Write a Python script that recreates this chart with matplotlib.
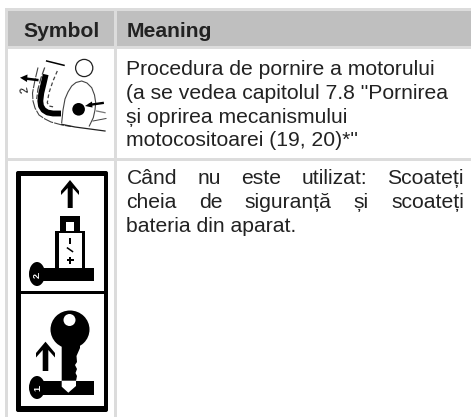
import matplotlib
matplotlib.use('Agg')
import matplotlib.pyplot as plt
from matplotlib.patches import Rectangle, Circle, Ellipse, Polygon, FancyBboxPatch

plt.rcParams['font.family'] = ['Liberation Sans', 'DejaVu Sans']

# table contents
headers = ['Symbol', 'Meaning']
row1_lines = ['Procedura de pornire a motorului',
              '(a se vedea capitolul 7.8 "Pornirea',
              'și oprirea mecanismului',
              'motocositoarei (19, 20)*"']
row2_lines = ['Când nu este utilizat: Scoateți',
              'cheia de siguranță și scoateți',
              'bateria din aparat.']
row2_justified = [True, True, False]

GRID = '#dcdcdc'
HEAD = '#bfbfbf'
TEXT = '#222222'
FS = 15.2

fig = plt.figure(figsize=(4.71, 4.17), dpi=100)
ax = fig.add_axes([0, 0, 1, 1])
ax.set_xlim(0, 471)
ax.set_ylim(417, 0)
ax.axis('off')

# grid and header
ax.add_patch(Rectangle((5, 8), 466, 409, fc=GRID, ec='none'))
ax.add_patch(Rectangle((8, 11), 106, 35, fc=HEAD, ec='none'))
ax.add_patch(Rectangle((116.5, 11), 355, 35, fc=HEAD, ec='none'))
ax.add_patch(Rectangle((8, 49), 106, 109, fc='white', ec='none'))
ax.add_patch(Rectangle((116.5, 49), 355, 109, fc='white', ec='none'))
ax.add_patch(Rectangle((8, 161), 106, 256, fc='white', ec='none'))
ax.add_patch(Rectangle((116.5, 161), 355, 256, fc='white', ec='none'))

ax.text(62, 36.5, headers[0], ha='center', va='baseline', fontsize=15.2,
        fontweight='bold', color=TEXT)
ax.text(126.5, 36.5, headers[1], ha='left', va='baseline', fontsize=15.2,
        fontweight='bold', color=TEXT)

for y, s in zip([75, 99, 122.5, 146.5], row1_lines):
    ax.text(126.5, y, s, ha='left', va='baseline', fontsize=FS, color=TEXT)

# justified lines, word by word
fig.canvas.draw()
rend = fig.canvas.get_renderer()
def put_line(s, y, justify):
    words = s.split(' ')
    if not justify:
        ax.text(126.5, y, s, ha='left', va='baseline', fontsize=FS, color=TEXT)
        return
    widths = []
    for w in words:
        t = ax.text(0, 0, w, fontsize=FS)
        widths.append(t.get_window_extent(rend).width)
        t.remove()
    gap = (464 - 126.5 - sum(widths)) / (len(words) - 1)
    x = 126.5
    for w, wd in zip(words, widths):
        ax.text(x, y, w, ha='left', va='baseline', fontsize=FS, color=TEXT)
        x += wd + gap

for y, s, j in zip([183.5, 207.5, 232], row2_lines, row2_justified):
    put_line(s, y, j)

K = 'black'
G = '#444444'
# symbol 1: start procedure
ax.plot([45.7, 43.5, 41.3, 40.3, 41, 43.5, 47.5, 53, 61], [74.5, 84, 93, 101, 106, 110, 112.5, 113.5, 113.5],
        color=K, lw=4.2, solid_capstyle='butt', solid_joinstyle='round')
ax.plot([38, 35, 32.5, 33, 35, 39, 45, 51, 62, 71], [67.5, 80, 93, 101, 108, 115, 119, 122, 125, 126.5], color=G, lw=0.8, ls=(0, (9, 1)))
ax.plot([44.7, 41, 38, 36.7], [67.5, 78, 89, 99], color=G, lw=0.9, ls=(0, (6, 1.5)))
ax.plot([57.3, 53, 49, 47.3, 49, 54], [71, 81, 92.7, 102.7, 106, 107], color=G, lw=0.9, ls=(0, (3, 2)))
ax.plot([46.7, 64], [61, 65.3], color=K, lw=1.1)
ax.add_patch(Circle((84.2, 68), 8.6, fc='white', ec='#222222', lw=0.9))
ax.plot([61.7, 63, 65, 68, 71.7, 76, 81.7, 87, 91.7, 94.5, 95.7, 95, 93.3, 89.3],
        [122.7, 110, 99, 92, 86, 82.5, 81, 83, 87.7, 95, 102.7, 110, 117.7, 126], color=G, lw=0.8)
ax.plot([61.7, 75, 90, 105], [124.3, 127, 129, 131], color='#222222', lw=0.9)
ax.plot([96.7, 105], [111, 112.7], color='#777777', lw=0.9)
ax.plot([93, 106], [121, 118.5], color=G, lw=0.7)
ax.add_patch(Circle((78.6, 109.3), 6.3, fc=K, ec='none'))
ax.plot([90, 102.7], [104.8, 103], color=K, lw=1.7)
ax.add_patch(Polygon([[85, 106], [92, 101.5], [92.5, 107.5]], fc=K, ec='none'))
ax.plot([26, 37.3], [78.6, 80], color=K, lw=1.8)
ax.add_patch(Polygon([[20, 77.7], [27.5, 74.5], [27, 82]], fc=K, ec='none'))
ax.text(24.7, 89.5, '2', rotation=100, fontsize=8, color=K, ha='center', va='center')

# symbol 2: outer frame and divider
ax.add_patch(FancyBboxPatch((16, 171), 92, 241, boxstyle='round,pad=0,rounding_size=2', fc=K, ec='none'))
ax.add_patch(Rectangle((20.5, 176), 83.5, 230, fc='white', ec='none'))
ax.add_patch(Rectangle((20.5, 290.7), 83.5, 3.3, fc=K, ec='none'))

# battery arrow
ax.add_patch(Polygon([[70, 180], [79, 191], [79, 195], [72.7, 188], [72.7, 208], [67.7, 208],
                      [67.7, 188], [61, 195], [61, 191]], fc=K, ec='none'))
# battery cap and body
ax.add_patch(Rectangle((60, 215.7), 20, 15.5, fc=K, ec='none'))
ax.add_patch(Rectangle((65.7, 221.7), 8.5, 9, fc='white', ec='none'))
ax.add_patch(Rectangle((55, 231), 30, 37, fc=K, ec='none'))
ax.add_patch(Rectangle((59.3, 233), 22.4, 35, fc='white', ec='none'))
ax.add_patch(Rectangle((69, 238), 2, 6, fc=K, ec='none'))
ax.plot([67.5, 72.5], [248, 251.5], color=K, lw=1.1)
ax.add_patch(Rectangle((69, 256.5), 2, 7, fc=K, ec='none'))
ax.add_patch(Rectangle((66.5, 259), 7, 2, fc=K, ec='none'))
# lock bar 2
ax.add_patch(Rectangle((40, 267.7), 54, 13.5, fc=K, ec='none'))
ax.add_patch(Ellipse((37, 274), 16, 24, fc=K, ec='none'))
ax.text(37.5, 274, '2.', rotation=90, fontsize=6.5, ha='center', va='center', color='white', fontweight='bold')

# key
ax.add_patch(Ellipse((70, 329.5), 39, 38, fc=K, ec='none'))
ax.add_patch(Circle((69.5, 320), 6, fc='white', ec='none'))
ax.add_patch(Polygon([[61.7, 342], [80, 342], [80, 348], [76.5, 356], [77, 362], [75, 365], [77, 369],
                     [75.5, 373], [77, 376], [76, 381], [61.7, 381]], fc=K, ec='none'))
# key arrow
ax.add_patch(Polygon([[45.5, 341.7], [55, 353], [55, 357.5], [48.3, 350], [48.3, 371], [42.7, 371],
                      [42.7, 350], [36, 357.5], [36, 353]], fc=K, ec='none'))
# lock bar 1
ax.add_patch(Rectangle((40, 380.7), 54, 14.3, fc=K, ec='none'))
ax.add_patch(Ellipse((37, 387.5), 16, 23, fc=K, ec='none'))
ax.text(37.5, 387.5, '1.', rotation=90, fontsize=6.5, ha='center', va='center', color='white', fontweight='bold')
ax.add_patch(Polygon([[61.7, 380.7], [76, 380.7], [76, 386], [68.3, 392.7], [61.7, 386.7]], fc='white', ec='none'))

fig.savefig('out.png', dpi=100)
